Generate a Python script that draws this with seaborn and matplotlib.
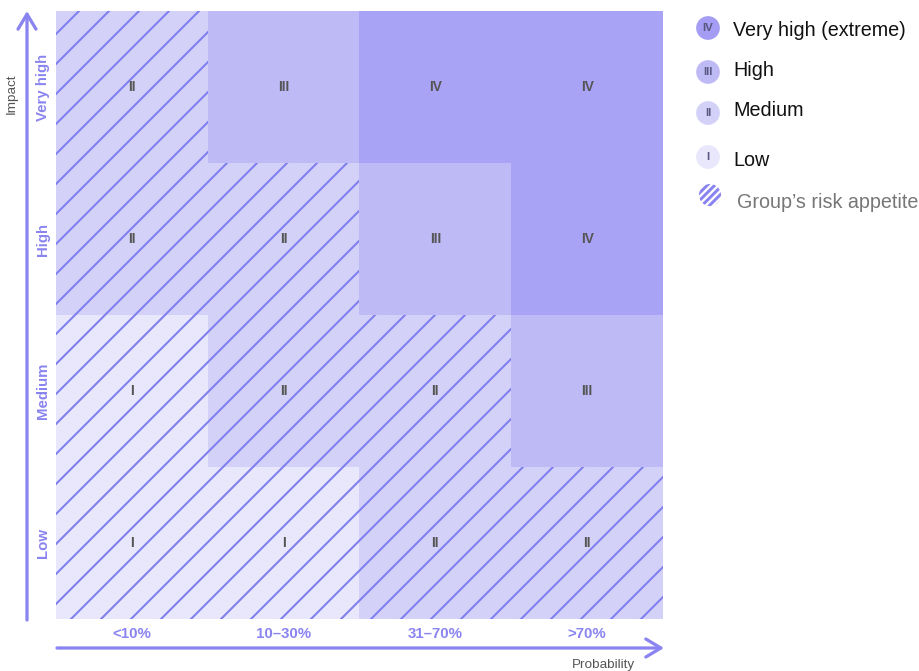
import numpy as np
import pandas as pd
import matplotlib
import matplotlib.pyplot as plt
import seaborn as sns
from matplotlib.colors import ListedColormap
from matplotlib.patches import Rectangle, Circle

# risk matrix data
probability = ['<10%', '10–30%', '31–70%', '>70%']
impact = ['Very high', 'High', 'Medium', 'Low']
levels = [[2, 3, 4, 4],
          [2, 2, 3, 4],
          [1, 2, 2, 3],
          [1, 1, 2, 2]]
# 1 = inside the group's risk appetite
appetite = [[1, 0, 0, 0],
            [1, 1, 0, 0],
            [1, 1, 1, 0],
            [1, 1, 1, 1]]
numerals = ['I', 'II', 'III', 'IV']
level_names = ['Low', 'Medium', 'High', 'Very high (extreme)']

level_colors = ['#E8E7FB', '#D3D1F8', '#BEBAF6', '#A9A3F5']
accent = '#8A84F0'

sns.set_theme(style='white')
plt.rcParams['font.family'] = ['Liberation Sans', 'DejaVu Sans']
plt.rcParams['hatch.linewidth'] = 0.8
plt.rcParams['hatch.color'] = '#7F7EEE'

W, H, DPI = 920, 671, 180
fig = plt.figure(figsize=(W / DPI, H / DPI), dpi=DPI)

df = pd.DataFrame(levels, index=impact, columns=probability)
annot = df.apply(lambda c: c.map(lambda v: numerals[v - 1]))

ax = fig.add_axes([56 / W, 1 - 619 / H, 607 / W, 608 / H])
sns.heatmap(df, ax=ax, cmap=ListedColormap(level_colors), vmin=0.5, vmax=4.5,
            cbar=False, annot=annot, fmt='',
            annot_kws={'fontsize': 5.5, 'fontweight': 'bold', 'color': '#555555'})

# hatch the cells that lie within the risk appetite
for i, row in enumerate(appetite):
    for j, flag in enumerate(row):
        if flag:
            ax.add_patch(Rectangle((j, i), 1, 1, fill=False, hatch='//',
                                   edgecolor='#7F7EEE', lw=0, zorder=2))

ax.tick_params(length=0)
ax.set_xticklabels(probability, color=accent, fontsize=6, fontweight='bold')
ax.set_yticklabels(impact, color=accent, fontsize=6, fontweight='bold',
                   rotation=90, va='center')
ax.tick_params(axis='x', pad=3.2)
ax.tick_params(axis='y', pad=2.3)
ax.set_xlabel('')
ax.set_ylabel('')

# overlay in pixel units for arrows and legend
lax = fig.add_axes([0, 0, 1, 1], zorder=5)
lax.set_xlim(0, W)
lax.set_ylim(H, 0)
lax.axis('off')

lax.annotate('', xy=(27, 11), xytext=(27, 620),
             arrowprops=dict(arrowstyle='->,head_length=0.5,head_width=0.3',
                             color=accent, lw=1.3, shrinkA=0, shrinkB=0))
lax.annotate('', xy=(664, 648), xytext=(57, 648),
             arrowprops=dict(arrowstyle='->,head_length=0.5,head_width=0.3',
                             color=accent, lw=1.3, shrinkA=0, shrinkB=0))
lax.text(12, 94, 'Impact', rotation=90, ha='center', va='center',
         fontsize=5.4, color='#555555')
lax.text(603, 665, 'Probability', ha='center', va='center',
         fontsize=5.4, color='#555555')

# legend
leg_y = [157, 113, 72, 28]
leg_text_y = [160, 110, 71, 30]
for k in range(4):
    lax.scatter([708], [leg_y[k]], s=90, color=level_colors[k] if k < 3 else '#A39DF3',
                edgecolor='none', zorder=6)
    lax.text(708, leg_y[k], numerals[k], ha='center', va='center',
             fontsize=4.6, fontweight='bold', color='#5B5880', zorder=7)
    lax.text(733, leg_text_y[k], level_names[k], ha='left', va='center',
             fontsize=7.9, color='#111111')

icon = Circle((710, 195), 11, facecolor='white', edgecolor='#8A84F0',
              hatch='////////', lw=0, zorder=6)
if hasattr(icon, 'set_hatch_linewidth'):
    icon.set_hatch_linewidth(1.2)
lax.add_patch(icon)
lax.text(737, 203, 'Group’s risk appetite', ha='left', va='center',
         fontsize=7.9, color='#777777')

fig.savefig('out.png', dpi=DPI)
